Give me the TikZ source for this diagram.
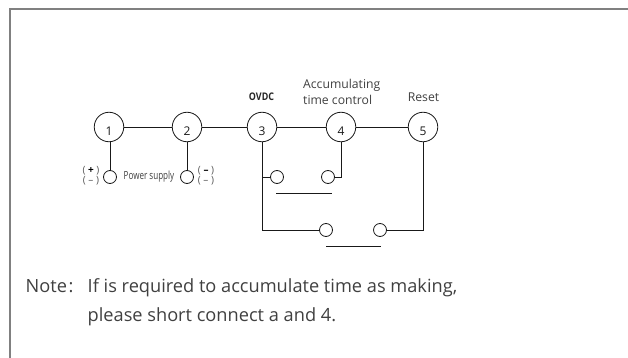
\documentclass[tikz,border=0pt]{standalone}
\usepackage{fontspec}
\setmainfont{Open Sans}
\newfontfamily\narrowf[FakeStretch=0.72]{Open Sans}
\newfontfamily\midf[FakeStretch=0.85]{Open Sans}
\newcommand{\digit}[1]{\raisebox{-8.5pt}[0pt][0pt]{#1}}
\begin{document}
\begin{tikzpicture}[x=1pt,y=-1pt,
  wire/.style={draw=black!90,line width=0.8pt},
  term/.style={circle,draw=black!90,line width=0.8pt,minimum size=29.5pt,inner sep=0pt,font=\fontsize{12}{12}\selectfont,text=black!90},
  pin/.style={circle,draw=black!90,line width=0.8pt,minimum size=13pt,inner sep=0pt},
  lab/.style={font=\fontsize{12.2}{16}\selectfont,text=black!75,inner sep=0pt,align=left},
  pm/.style={inner sep=0pt,font=\fontsize{10}{10}\selectfont,text=black!65,align=center},
  notetext/.style={font=\fontsize{18.2}{20}\selectfont,text=black!75,inner sep=0pt,anchor=base west}]
\useasboundingbox (0,0) rectangle (628,358);
\draw[draw=black!50,line width=1.6pt] (10.2,358) -- (10.2,8.8) -- (628,8.8);
\node[term] (t1) at (109,127) {\digit{1}};
\node[term] (t2) at (187,127) {\digit{2}};
\node[term] (t3) at (262,127) {\digit{3}};
\node[term] (t4) at (341,127) {\digit{4}};
\node[term] (t5) at (423,127) {\digit{5}};
\node[pin] (p1) at (110,177) {};
\node[pin] (p2) at (187,177) {};
\node[pin] (s1) at (277,177) {};
\node[pin] (s2) at (328,177) {};
\node[pin] (s3) at (326,230) {};
\node[pin] (s4) at (380,230) {};
\draw[wire] (t1) -- (t2);
\draw[wire] (t2) -- (t3);
\draw[wire] (t3) -- (t4);
\draw[wire] (t4) -- (t5);
\draw[wire] (p1.north) -- (p1.north |- t1.south);
\draw[wire] (p2.north) -- (p2.north |- t2.south);
\draw[wire] (t3.south) |- (s1.west);
\draw[wire] (t3.south) |- (s3.west);
\draw[wire] (t4.south) |- (s2.east);
\draw[wire] (t5.south) |- (s4.east);
\coordinate (b1a) at (276,193); \coordinate (b1b) at (332,193);
\coordinate (b2a) at (326,246); \coordinate (b2b) at (381,246);
\draw[wire] (b1a) -- (b1b);
\draw[wire] (b2a) -- (b2b);
\node[lab,font=\fontsize{10.5}{12}\selectfont\midf,text=black!85] (ovdc) at (261.5,97) {\textbf{OVDC}};
\node[lab,anchor=base west] (acc) at (303,89) {Accumulating};
\node[lab,anchor=base west] (acc2) at (303,105) {time control};
\node[lab,anchor=base] (reset) at (423.5,102) {Reset};
\node[lab,font=\fontsize{11.2}{13}\selectfont\narrowf] (ps) at (149,177) {Power supply};
\node[pm] (pm1) at (91,176) {( \textcolor{black}{\textbf{+}} )\\( – )};
\node[pm] (pm2) at (206,176) {( \textcolor{black}{\textbf{–}} )\\( – )};
\node[notetext] (n1) at (25.5,292.7) {Note\hspace{1.5pt}:};
\node[notetext] (n2) at (87.5,292.7) {If is required to accumulate time as making,};
\node[notetext] (n3) at (87.5,321) {please short connect a and 4.};
\end{tikzpicture}
\end{document}
